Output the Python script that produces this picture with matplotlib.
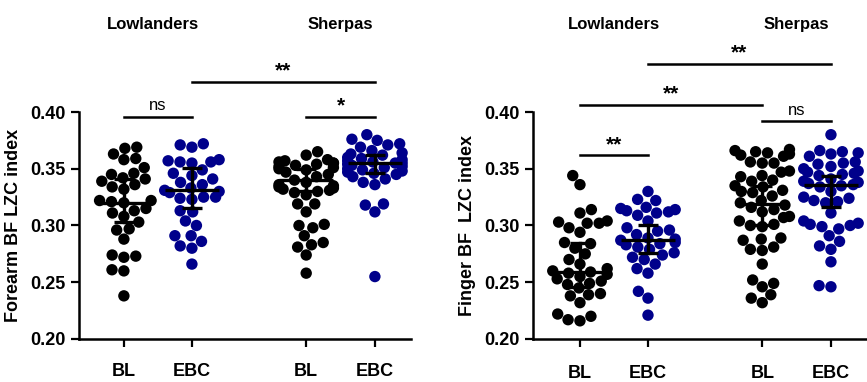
import numpy as np
import pandas as pd
import seaborn as sns
import matplotlib
matplotlib.use('Agg')
import matplotlib.pyplot as plt
import warnings
warnings.filterwarnings('ignore')

# Data
group_labels = ['BL', 'EBC', 'BL', 'EBC']
populations = ['Lowlanders', 'Sherpas']

# Forearm BF LZC index
forearm_low_bl = [0.369, 0.368, 0.363, 0.359, 0.358, 0.351, 0.346, 0.345, 0.342, 0.341,
                  0.339, 0.336, 0.334, 0.332, 0.322, 0.322, 0.321, 0.320, 0.315, 0.313,
                  0.311, 0.308, 0.303, 0.297, 0.296, 0.288, 0.274, 0.273, 0.272, 0.261,
                  0.260, 0.238]
forearm_low_ebc = [0.372, 0.371, 0.369, 0.358, 0.357, 0.356, 0.356, 0.355, 0.349, 0.346,
                   0.344, 0.341, 0.338, 0.336, 0.333, 0.331, 0.330, 0.329, 0.325, 0.325,
                   0.324, 0.323, 0.313, 0.312, 0.304, 0.300, 0.291, 0.291, 0.286, 0.282,
                   0.280, 0.266]
forearm_sh_bl = [0.365, 0.362, 0.358, 0.357, 0.356, 0.355, 0.355, 0.354, 0.353, 0.352,
                 0.351, 0.350, 0.349, 0.347, 0.345, 0.343, 0.340, 0.338, 0.336, 0.335,
                 0.334, 0.333, 0.332, 0.331, 0.330, 0.329, 0.327, 0.319, 0.319, 0.312,
                 0.301, 0.300, 0.298, 0.291, 0.285, 0.283, 0.281, 0.274, 0.258]
forearm_sh_ebc = [0.380, 0.376, 0.375, 0.372, 0.371, 0.369, 0.366, 0.364, 0.363, 0.362,
                  0.360, 0.359, 0.358, 0.357, 0.356, 0.355, 0.355, 0.354, 0.353, 0.352,
                  0.351, 0.350, 0.349, 0.348, 0.347, 0.346, 0.345, 0.343, 0.341, 0.338,
                  0.336, 0.319, 0.318, 0.312, 0.255]
forearm_center = [0.320, 0.331, 0.340, 0.355]
forearm_low = [0.303, 0.315, 0.330, 0.346]
forearm_high = [0.341, 0.351, 0.350, 0.362]

# Finger BF LZC index
finger_low_bl = [0.344, 0.336, 0.314, 0.311, 0.304, 0.303, 0.302, 0.302, 0.298, 0.294,
                 0.285, 0.284, 0.280, 0.275, 0.270, 0.266, 0.262, 0.260, 0.259, 0.258,
                 0.257, 0.255, 0.253, 0.251, 0.249, 0.248, 0.245, 0.240, 0.239, 0.238,
                 0.232, 0.222, 0.220, 0.217, 0.216]
finger_low_ebc = [0.330, 0.323, 0.322, 0.316, 0.315, 0.314, 0.313, 0.312, 0.311, 0.309,
                  0.304, 0.298, 0.296, 0.295, 0.292, 0.289, 0.288, 0.287, 0.285, 0.284,
                  0.283, 0.281, 0.279, 0.276, 0.274, 0.272, 0.270, 0.266, 0.262, 0.258,
                  0.242, 0.236, 0.221]
finger_sh_bl = [0.367, 0.366, 0.365, 0.364, 0.363, 0.362, 0.361, 0.356, 0.355, 0.355,
                0.348, 0.347, 0.344, 0.343, 0.340, 0.339, 0.335, 0.334, 0.331, 0.330,
                0.329, 0.326, 0.322, 0.320, 0.318, 0.316, 0.314, 0.312, 0.308, 0.307,
                0.304, 0.301, 0.300, 0.299, 0.289, 0.288, 0.287, 0.281, 0.279, 0.278,
                0.266, 0.252, 0.249, 0.246, 0.239, 0.236, 0.232]
finger_sh_ebc = [0.380, 0.366, 0.365, 0.364, 0.363, 0.361, 0.356, 0.355, 0.354, 0.352,
                 0.350, 0.348, 0.347, 0.346, 0.345, 0.344, 0.341, 0.339, 0.338, 0.337,
                 0.336, 0.335, 0.334, 0.330, 0.325, 0.324, 0.322, 0.321, 0.320, 0.311,
                 0.304, 0.302, 0.301, 0.300, 0.299, 0.297, 0.291, 0.286, 0.282, 0.279,
                 0.268, 0.247, 0.246]
finger_center = [0.259, 0.287, 0.319, 0.336]
finger_low = [0.246, 0.276, 0.300, 0.316]
finger_high = [0.285, 0.300, 0.335, 0.344]

# significance annotations: (group i, group j, bar y, label)
forearm_sig = [(0, 1, 0.396, 'ns'), (2, 3, 0.396, '*'), (1, 3, 0.4265, '**')]
finger_sig = [(0, 1, 0.362, '**'), (2, 3, 0.392, 'ns'), (0, 2, 0.4065, '**'), (1, 3, 0.4425, '**')]

# layout
xpos = [0.0, 1.0, 2.68, 3.69]
colors = ['black', '#00008b', 'black', '#00008b']

plt.rcParams['font.family'] = ['Liberation Sans', 'DejaVu Sans']
plt.rcParams['font.weight'] = 'bold'

fig = plt.figure(figsize=(8.67, 3.82), dpi=100)
ax1 = fig.add_axes([0.0911, 0.1126, 0.3829, 0.5942])
ax2 = fig.add_axes([0.6148, 0.1126, 0.3852, 0.5942])


def draw_panel(ax, groups, center, low, high, sig, ylabel, xlim, label_x, xpad):
    rows = []
    for k, vals in enumerate(groups):
        for v in vals:
            rows.append({'x': xpos[k], 'y': v, 'g': str(k)})
    df = pd.DataFrame(rows)
    ax.set_xlim(xlim)
    ax.set_ylim(0.20, 0.40)
    sns.swarmplot(data=df, x='x', y='y', hue='g', ax=ax, native_scale=True,
                  palette={str(k): colors[k] for k in range(4)}, size=8.2,
                  linewidth=0, legend=False)
    for k in range(4):
        ax.plot([xpos[k] - 0.4, xpos[k] + 0.4], [center[k], center[k]], color='black', lw=2.4,
                solid_capstyle='butt', zorder=5)
        ax.plot([xpos[k], xpos[k]], [low[k], high[k]], color='black', lw=2.4, zorder=5)
        for yy in (low[k], high[k]):
            ax.plot([xpos[k] - 0.15, xpos[k] + 0.15], [yy, yy], color='black', lw=2.4,
                    solid_capstyle='butt', zorder=5)
    for i, j, yb, lab in sig:
        ax.plot([xpos[i], xpos[j]], [yb, yb], color='black', lw=1.8, clip_on=False)
        if lab == 'ns':
            ax.text((xpos[i] + xpos[j]) / 2, yb + 0.003, lab, ha='center', va='bottom',
                    fontsize=12, fontweight='normal')
        else:
            ax.text((xpos[i] + xpos[j]) / 2, yb + 0.001, lab, ha='center', va='bottom',
                    fontsize=15, fontweight='bold')
    ax.text(label_x[0], 0.477, populations[0], ha='center', va='center', fontsize=12,
            fontweight='bold')
    ax.text(label_x[1], 0.477, populations[1], ha='center', va='center', fontsize=12,
            fontweight='bold')
    ax.set_xlim(xlim)
    ax.set_ylim(0.20, 0.40)
    ax.set_yticks([0.20, 0.25, 0.30, 0.35, 0.40])
    ax.set_yticklabels(['%.2f' % t for t in [0.20, 0.25, 0.30, 0.35, 0.40]])
    ax.set_xticks(xpos)
    ax.set_xticklabels(group_labels)
    ax.set_xlabel('')
    ax.set_ylabel(ylabel, fontsize=13, fontweight='bold', labelpad=6)
    ax.tick_params(axis='y', labelsize=13, width=1.6, length=6, direction='out')
    ax.tick_params(axis='x', labelsize=13, width=1.6, length=6, direction='out', pad=xpad)
    for lab in ax.get_xticklabels() + ax.get_yticklabels():
        lab.set_fontweight('bold')
    for s in ['top', 'right']:
        ax.spines[s].set_visible(False)
    for s in ['left', 'bottom']:
        ax.spines[s].set_linewidth(1.8)
    ax.patch.set_alpha(0)


draw_panel(ax1, [forearm_low_bl, forearm_low_ebc, forearm_sh_bl, forearm_sh_ebc],
           forearm_center, forearm_low, forearm_high, forearm_sig,
           'Forearm BF LZC index', (-0.66, 4.22), (0.42, 3.18), 11)
draw_panel(ax2, [finger_low_bl, finger_low_ebc, finger_sh_bl, finger_sh_ebc],
           finger_center, finger_low, finger_high, finger_sig,
           'Finger BF  LZC index', (-0.69, 4.22), (0.5, 3.18), 13)

fig.savefig('out.png', dpi=100)
